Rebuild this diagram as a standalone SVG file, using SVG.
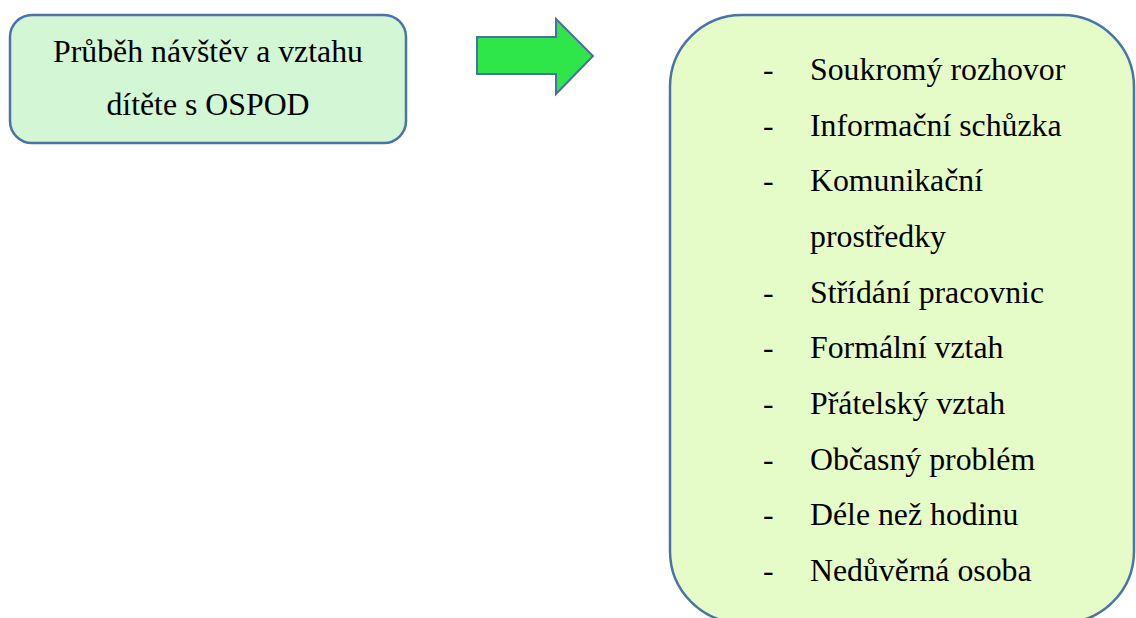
<svg xmlns="http://www.w3.org/2000/svg" width="1136" height="618" viewBox="0 0 1136 618">
<style>
text{font-family:"Liberation Serif","Times New Roman",serif;font-size:31.8px;fill:#000}
.box{stroke:#4a74a5;stroke-width:2.5}
.c{text-anchor:middle}
</style>
<rect width="1136" height="618" fill="#fff"/>
<g id="source">
<rect class="box" x="10" y="15" width="396" height="128" rx="22" fill="#d3f6d5"/>
<text class="c" x="208" y="62">Průběh návštěv a vztahu</text>
<text class="c" x="208" y="115">dítěte s OSPOD</text>
</g>
<g id="connectors">
<polygon points="477,37 556,37 556,19 593,56 556,94 556,74 477,74" fill="#2fe64a" stroke="#4a6fa3" stroke-width="2"/>
</g>
<g id="list">
<rect class="box" x="670" y="15" width="464" height="608" rx="72" fill="#e6fcc8"/>
<g>
<text x="763" y="80">-</text><text x="810" y="80">Soukromý rozhovor</text>
<text x="763" y="136">-</text><text x="810" y="136">Informační schůzka</text>
<text x="763" y="191">-</text><text x="810" y="191">Komunikační</text>
<text x="810" y="247">prostředky</text>
<text x="763" y="303">-</text><text x="810" y="303">Střídání pracovnic</text>
<text x="763" y="358">-</text><text x="810" y="358">Formální vztah</text>
<text x="763" y="414">-</text><text x="810" y="414">Přátelský vztah</text>
<text x="763" y="470">-</text><text x="810" y="470">Občasný problém</text>
<text x="763" y="525">-</text><text x="810" y="525">Déle než hodinu</text>
<text x="763" y="581">-</text><text x="810" y="581">Nedůvěrná osoba</text>
</g>
</g>
</svg>
